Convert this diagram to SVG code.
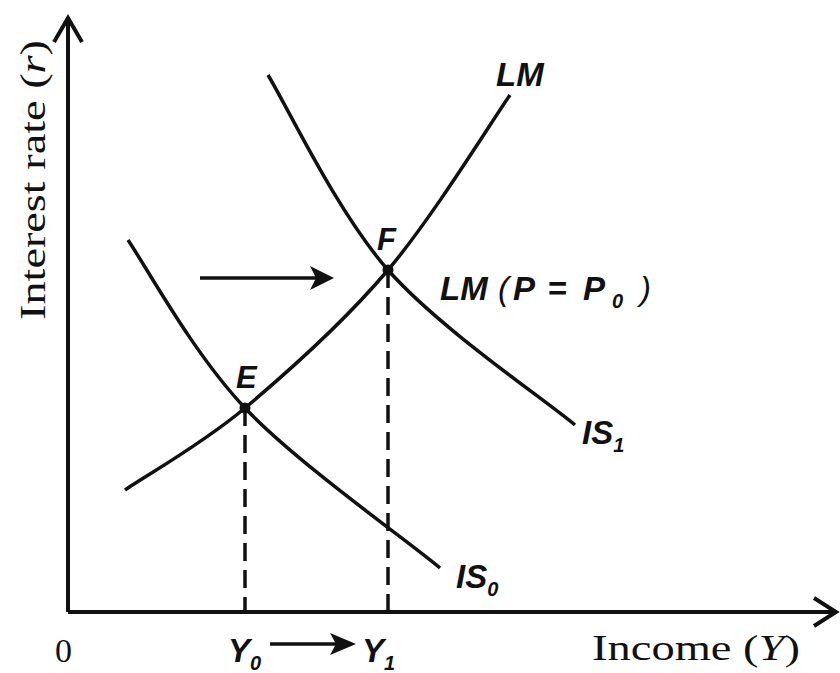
<svg xmlns="http://www.w3.org/2000/svg" width="840" height="673" viewBox="0 0 840 673">
<style>
.ax{fill:none;stroke:#111;stroke-width:4}
.cv{fill:none;stroke:#111;stroke-width:3.5}
.ds{fill:none;stroke:#111;stroke-width:3.5;stroke-dasharray:18 9}
.lab{font-family:"Liberation Sans",Arial,sans-serif;font-style:italic;font-weight:bold;fill:#111}
.ser{font-family:"Liberation Serif","Times New Roman",serif;fill:#111}
</style>
<rect width="840" height="673" fill="#fff"/>
<g id="axes">
<path class="ax" d="M68,612 V20"/>
<path class="ax" d="M54,42 L68,18 L82,42"/>
<path class="ax" d="M68,612 H834"/>
<path class="ax" d="M814,598 L836,612 L814,626"/>
</g>
<g id="connectors">
<path class="ds" d="M245,408 V612"/>
<path class="ds" d="M388,270 V612"/>
<path class="cv" d="M200,278 H318"/>
<path d="M310,266 L334,278 L310,290 L316,278 Z" fill="#111"/>
<path class="cv" d="M270,644 H340"/>
<path d="M330,633 L356,644 L330,655 L336,644 Z" fill="#111"/>
</g>
<g id="LM">
<path class="cv" d="M125,490 C145,476 201,445 245,408 C289,371 344,322 388,270 C432,218 490,124 510,95"/>
<text class="lab" x="496" y="86" font-size="33">LM</text>
</g>
<g id="IS0">
<path class="cv" d="M128,240 C147,268 193,353 245,408 C297,463 408,541 440,568"/>
<text class="lab" x="456" y="588" font-size="33">IS<tspan font-size="20" dy="8">0</tspan></text>
</g>
<g id="IS1">
<path class="cv" d="M268,75 C288,108 337,212 388,270 C439,328 544,399 575,425"/>
<text class="lab" x="582" y="444" font-size="33">IS<tspan font-size="20" dy="8">1</tspan></text>
</g>
<g id="E">
<circle cx="245" cy="408" r="5.5" fill="#111"/>
<text class="lab" x="236" y="388" font-size="31">E</text>
</g>
<g id="F">
<circle cx="388" cy="270" r="5.5" fill="#111"/>
<text class="lab" x="377" y="250" font-size="31">F</text>
</g>
<g id="labels">
<text class="lab" font-size="33" y="300"><tspan x="440">LM</tspan><tspan x="498" font-weight="normal">(</tspan><tspan x="513">P</tspan><tspan x="548" font-style="normal">=</tspan><tspan x="583">P</tspan><tspan x="612" font-size="20" dy="8">0</tspan><tspan x="640" dy="-8" font-weight="normal">)</tspan></text>
<text class="ser" x="55" y="662" font-size="34">0</text>
<text class="lab" x="228" y="662" font-size="33">Y<tspan font-size="20" dy="8">0</tspan></text>
<text class="lab" x="362" y="662" font-size="33">Y<tspan font-size="20" dy="8">1</tspan></text>
<text class="ser" x="592" y="660" font-size="36" textLength="208" lengthAdjust="spacingAndGlyphs">Income (<tspan font-style="italic">Y</tspan>)</text>
<text class="ser" transform="translate(45,320) rotate(-90)" font-size="36" textLength="280" lengthAdjust="spacingAndGlyphs">Interest rate (<tspan font-style="italic">r</tspan>)</text>
</g>
</svg>
